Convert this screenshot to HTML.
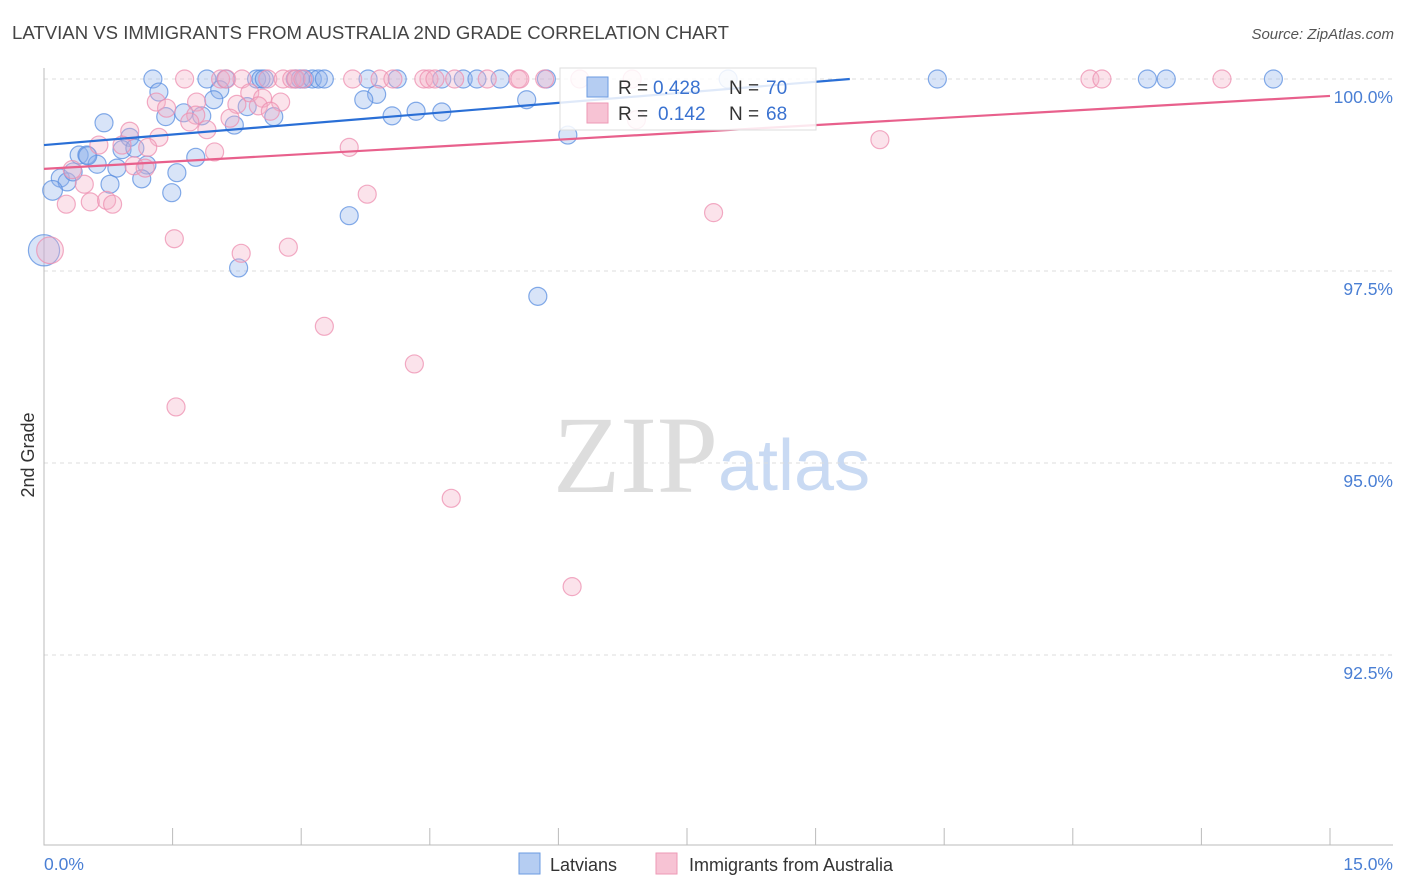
<!DOCTYPE html>
<html><head><meta charset="utf-8"><style>
body{margin:0;background:#fff;font-family:"Liberation Sans",sans-serif}
svg{display:block}
</style></head><body>
<svg width="1406" height="892" viewBox="0 0 1406 892">
<text x="12" y="39" font-size="18.6" fill="#444">LATVIAN VS IMMIGRANTS FROM AUSTRALIA 2ND GRADE CORRELATION CHART</text>
<text x="1394" y="39" font-size="15" fill="#555" font-style="italic" text-anchor="end">Source: ZipAtlas.com</text>
<text x="553" y="492" font-size="110" fill="#ddd" font-family="Liberation Serif,serif">ZIP</text>
<text x="718" y="490" font-size="72" fill="#c9daf3">atlas</text>
<text transform="translate(34,455) rotate(-90)" font-size="18" fill="#333" text-anchor="middle">2nd Grade</text>
<g id="grid"></g><g id="axes"></g><g id="pts"></g><g id="lines"></g>
<g>
<rect x="560" y="68" width="256" height="62" fill="#fff" fill-opacity="0.85" stroke="#ddd"/>
<rect x="587" y="77" width="21" height="20" fill="#b5cdf2" stroke="#6b9be2"/>
<text x="618" y="94" font-size="19" fill="#333">R =</text>
<text x="653" y="94" font-size="19" fill="#3a72d0">0.428</text>
<text x="729" y="94" font-size="19" fill="#333">N =</text>
<text x="766" y="94" font-size="19" fill="#3a72d0">70</text>
<rect x="587" y="103" width="21" height="20" fill="#f7c3d4" stroke="#ee9ab6"/>
<text x="618" y="120" font-size="19" fill="#333">R =</text>
<text x="658" y="120" font-size="19" fill="#3a72d0">0.142</text>
<text x="729" y="120" font-size="19" fill="#333">N =</text>
<text x="766" y="120" font-size="19" fill="#3a72d0">68</text>
</g>
<g>
<rect x="519" y="853" width="21" height="21" fill="#b5cdf2" stroke="#6b9be2"/>
<text x="550" y="871" font-size="18" fill="#333">Latvians</text>
<rect x="656" y="853" width="21" height="21" fill="#f7c3d4" stroke="#ee9ab6"/>
<text x="689" y="871" font-size="18" fill="#333">Immigrants from Australia</text>
</g>
</svg>
<script>
const xTicks=[0,1.5,3,4.5,6,7.5,9,10.5,12,13.5,15];
const yTicks=[100,97.5,95,92.5];
const yTickLabels=["100.0%","97.5%","95.0%","92.5%"];
const xEndLabels=["0.0%","15.0%"];
const blueX=[1.27,1.90,2.12,2.48,2.53,2.57,2.93,2.99,3.04,3.13,3.20,3.27,3.78,4.12,4.64,4.89,5.05,5.32,5.86,7.98,10.42,12.87,13.09,14.34,1.34,2.05,1.98,3.88,3.73,5.63,1.42,1.63,1.84,2.22,2.37,2.68,4.06,4.34,4.64,0.70,1.00,0.91,1.06,0.41,0.50,0.62,0.85,1.20,1.77,1.55,0.19,0.27,1.14,0.77,1.49,0.10,0.34,3.56,2.27,5.76,6.11,0.51,0.0];
const blueY=[100,100,100,100,100,100,100,100,100,100,100,100,100,100,100,100,100,100,100,100,100,100,100,100,99.83,99.86,99.73,99.80,99.73,99.73,99.51,99.56,99.52,99.40,99.64,99.51,99.52,99.58,99.57,99.43,99.24,99.08,99.10,99.01,99.01,98.89,98.84,98.88,98.98,98.78,98.71,98.66,98.70,98.63,98.52,98.55,98.79,98.22,97.54,97.17,99.27,99.00,97.77];
const blueW=[1,1,1,1,1,1,1,1,1,1,1,1,1,1,1,1,1,1,1,1,1,1,1,1,1,1,1,1,1,1,1,1,1,1,1,1,1,1,1,1,1,1,1,1,1,1,1,1,1,1,1,1,1,1,1,1.2,1,1,1,1,1,1,3];
const pinkX=[1.64,2.06,2.13,2.31,2.61,2.79,2.89,2.94,3.02,3.60,3.92,4.07,4.43,4.49,4.56,4.79,5.17,5.53,5.55,5.84,6.25,6.86,12.20,12.34,13.74,1.31,1.78,2.40,2.25,2.55,2.76,2.50,1.77,1.43,1.70,1.90,2.17,1.00,1.34,0.91,0.64,1.21,1.99,1.05,1.18,0.33,0.47,0.54,0.26,0.73,0.80,3.56,3.77,1.52,2.30,2.85,3.27,4.32,1.54,4.75,6.16,7.81,9.75,6.91,2.64,0.07];
const pinkY=[100,100,100,100,100,100,100,100,100,100,100,100,100,100,100,100,100,100,100,100,100,100,100,100,100,99.70,99.70,99.82,99.67,99.75,99.70,99.65,99.53,99.62,99.44,99.34,99.49,99.32,99.24,99.14,99.14,99.11,99.05,98.87,98.84,98.82,98.63,98.40,98.37,98.42,98.37,99.11,98.50,97.92,97.73,97.81,96.78,96.29,95.73,94.54,93.39,98.26,99.21,99.47,99.58,97.77];
const blueLine=[99.14,0.0915];
const pinkLine=[98.83,0.0633];
const X=v=>44+v/15*1286, Y=v=>79+(100-v)/2.5*192;
const NS="http://www.w3.org/2000/svg";
function mk(t,p,a){const e=document.createElementNS(NS,t);for(const k in a)e.setAttribute(k,a[k]);p.appendChild(e);return e;}
const grid=document.getElementById('grid'),axes=document.getElementById('axes'),pts=document.getElementById('pts'),lines=document.getElementById('lines');
yTicks.forEach((t,i)=>{
 const l=mk('line',grid,{x1:44,x2:1393,y1:Y(t),y2:Y(t),stroke:'#ddd','stroke-dasharray':'4,4'});
 
 
 const tx=mk('text',axes,{x:1393,y:Y(t)+24,'font-size':17.5,fill:'#4a7fd4','text-anchor':'end'});
 tx.textContent=yTickLabels[i];
 
 
});
const ax=mk('path',axes,{d:'M44 68V845H1393',stroke:'#bbb',fill:'none'});


xTicks.forEach(t=>{
 const l=mk('line',axes,{x1:X(t),x2:X(t),y1:828,y2:845,stroke:'#bbb'});
 
 
});
const xl0=mk('text',axes,{x:44,y:870,'font-size':17.5,fill:'#4a7fd4'});xl0.textContent=xEndLabels[0];


const xl1=mk('text',axes,{x:1393,y:870,'font-size':17.5,fill:'#4a7fd4','text-anchor':'end'});xl1.textContent=xEndLabels[1];


function dots(xs,ys,ws,fill,stroke,name){xs.forEach((x,i)=>{
 const c=mk('circle',pts,{cx:X(x),cy:Y(ys[i]),r:9*Math.sqrt(ws?ws[i]:1),fill:fill,'fill-opacity':0.35,stroke:stroke,'stroke-opacity':0.75,'stroke-width':1.2});
 
 
});}
dots(blueX,blueY,blueW,'#8fb3ea','#5b8fe0','latvians-point');
dots(pinkX,pinkY,pinkX.map((x,i)=>i==pinkX.length-1?2.2:1),'#f4b0c6','#ee8fb0','immigrants-point');
const bx2=(100-blueLine[0])/blueLine[1];
const bl=mk('line',lines,{x1:X(0),y1:Y(blueLine[0]),x2:X(bx2),y2:Y(100),stroke:'#2a6fd6','stroke-width':2.2});


const pl=mk('line',lines,{x1:X(0),y1:Y(pinkLine[0]),x2:X(15),y2:Y(pinkLine[0]+pinkLine[1]*15),stroke:'#e8608c','stroke-width':2.2});


</script>
</body></html>
